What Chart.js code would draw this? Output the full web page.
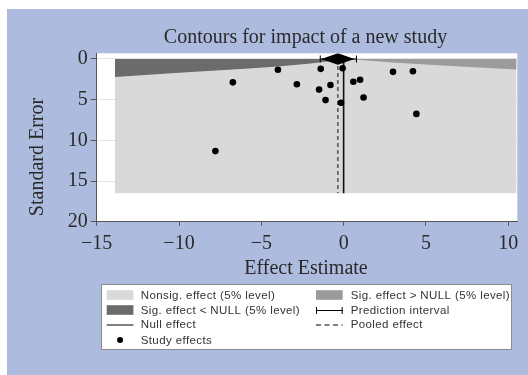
<!DOCTYPE html>
<html>
<head>
<meta charset="utf-8">
<script src="https://cdn.jsdelivr.net/npm/chart.js@4.4.1/dist/chart.umd.min.js"></script>
<style>
  html, body { margin: 0; padding: 0; background: #fff; }
  #wrap { width: 528px; height: 375px; }
</style>
</head>
<body>
<div id="wrap"><canvas id="c" width="528" height="375"></canvas></div>
<script>
// study estimates
const studyEffect = [-3.99, -1.39, -0.06, -6.73, -2.84, -1.49, -0.80, -1.10, -0.16, 0.59, 1.00, 1.21, 3.00, 4.21, 4.42, -7.79];
const studySE     = [ 1.33,  1.21,  1.13,  2.87,  3.11,  3.76,  3.19,  5.05,  5.38, 2.79, 2.55, 4.73, 1.58, 1.50, 6.75, 11.32];

const nullEffect = 0;
const pooledEffect = -0.35;
const pooledCI = [-1.36, 0.66];
const diamondHalfSE = 0.7;
const predInterval = [-1.42, 0.78];

// contour regions (effect, SE)
const contourX = [-13.89, 10.49];
const contourMaxSE = 16.5;
const sigLowX  = [-13.89, -10, -8, -6, -4, -2, -1, -0.1];
const sigLowSE = [2.2, 1.7, 1.44, 1.2, 0.93, 0.55, 0.3, 0];
const sigHighX  = [0.1, 1, 3, 6, 10.49];
const sigHighSE = [0, 0.12, 0.42, 0.8, 1.28];

const xTicks = [-15, -10, -5, 0, 5, 10];
const xTickLabels = ['\u221215', '\u221210', '\u22125', '0', '5', '10'];
const yTicks = [0, 5, 10, 15, 20];

const titleText = 'Contours for impact of a new study';
const xTitle = 'Effect Estimate';
const yTitle = 'Standard Error';
const legendLabels = [
  'Nonsig. effect (5% level)', 'Sig. effect > NULL (5% level)',
  'Sig. effect < NULL (5% level)', 'Prediction interval',
  'Null effect', 'Pooled effect',
  'Study effects'
];

const C_BLUE = '#adbbdf';
const C_LIGHT = '#d9d9d9';
const C_MID = '#9b9b9b';
const C_DARK = '#6b6b6b';
const SERIF = '"Liberation Serif", "DejaVu Serif", serif';
const SANS = '"Liberation Sans", Arial, sans-serif';

// polygons for the shaded areas
const nonsigPoly = [
  { x: contourX[0], y: 0 }, { x: contourX[1], y: 0 },
  { x: contourX[1], y: contourMaxSE }, { x: contourX[0], y: contourMaxSE },
  { x: contourX[0], y: 0 }
];
const sigLowPoly = [{ x: sigLowX[0], y: 0 }];
for (let i = sigLowX.length - 1; i >= 0; i--) sigLowPoly.push({ x: sigLowX[i], y: sigLowSE[i] });
const sigHighPoly = sigHighX.map((x, i) => ({ x: x, y: sigHighSE[i] }));
sigHighPoly.push({ x: sigHighX[sigHighX.length - 1], y: 0 }, { x: sigHighX[0], y: 0 });

const diamond = [
  { x: pooledCI[0], y: 0 }, { x: pooledEffect, y: -diamondHalfSE },
  { x: pooledCI[1], y: 0 }, { x: pooledEffect, y: diamondHalfSE },
  { x: pooledCI[0], y: 0 }
];

function poly(data, color, order) {
  return {
    type: 'line', data: data, order: order,
    backgroundColor: color, borderColor: color, borderWidth: 0,
    fill: 'shape', pointRadius: 0, tension: 0
  };
}

const panelPlugin = {
  id: 'panel',
  beforeDraw(chart) {
    const ctx = chart.ctx;
    const a = chart.chartArea;
    ctx.save();
    ctx.fillStyle = '#fff';
    ctx.fillRect(0, 0, chart.width, chart.height);
    ctx.fillStyle = C_BLUE;
    ctx.fillRect(7, 9, chart.width - 7, chart.height - 9);
    ctx.fillStyle = '#fff';
    ctx.fillRect(a.left, a.top, a.right - a.left, a.bottom - a.top);
    ctx.restore();
  },
  afterDraw(chart) {
    const ctx = chart.ctx;
    ctx.save();
    ctx.fillStyle = '#2a2a2a';
    ctx.font = '20px ' + SERIF;
    ctx.textAlign = 'center';
    ctx.textBaseline = 'alphabetic';
    ctx.fillText(titleText, 305.5, 42.5);
    ctx.textBaseline = 'middle';
    ctx.fillText(xTitle, 306, 269);
    ctx.translate(38, 157);
    ctx.rotate(-Math.PI / 2);
    ctx.fillText(yTitle, 0, 0);
    ctx.restore();

    // legend
    ctx.save();
    ctx.fillStyle = '#fff';
    ctx.fillRect(101.5, 284.5, 410, 65);
    ctx.strokeStyle = '#8c8c8c';
    ctx.lineWidth = 1;
    ctx.strokeRect(101.5, 284.5, 410, 65);
    const colX = [106.7, 316];
    const textX = [140.7, 350.7];
    const rowY = [295, 310, 324.5, 340];
    const kinds = ['box', 'box', 'box', 'pi', 'line', 'dash', 'dot'];
    const boxColors = [C_LIGHT, C_MID, C_DARK];
    ctx.font = '11.5px ' + SANS;
    ctx.letterSpacing = '0.4px';
    ctx.textBaseline = 'middle';
    ctx.textAlign = 'left';
    legendLabels.forEach((label, i) => {
      const col = i % 2, row = Math.floor(i / 2);
      const x = colX[col], y = rowY[row], w = 26.7;
      ctx.strokeStyle = '#000';
      ctx.setLineDash([]);
      if (kinds[i] === 'box') {
        ctx.fillStyle = boxColors[i];
        ctx.fillRect(x, y - 4.8, w, 9.6);
      } else if (kinds[i] === 'pi') {
        ctx.lineWidth = 1;
        ctx.beginPath();
        ctx.moveTo(x, y + 0.5); ctx.lineTo(x + w, y + 0.5);
        ctx.moveTo(x + 0.5, y - 3); ctx.lineTo(x + 0.5, y + 4);
        ctx.moveTo(x + w - 0.5, y - 3); ctx.lineTo(x + w - 0.5, y + 4);
        ctx.stroke();
      } else if (kinds[i] === 'line' || kinds[i] === 'dash') {
        ctx.lineWidth = 1;
        if (kinds[i] === 'dash') ctx.setLineDash([5, 3.5]);
        ctx.beginPath();
        ctx.moveTo(x, y + 0.5); ctx.lineTo(x + w, y + 0.5);
        ctx.stroke();
        ctx.setLineDash([]);
      } else {
        ctx.fillStyle = '#000';
        ctx.beginPath();
        ctx.arc(x + w / 2, y, 3, 0, Math.PI * 2);
        ctx.fill();
      }
      ctx.fillStyle = '#333';
      ctx.fillText(label, textX[col], y + 0.5);
    });
    ctx.restore();
  }
};

new Chart(document.getElementById('c'), {
  type: 'scatter',
  data: {
    datasets: [
      {
        label: 'Study effects',
        data: studyEffect.map((x, i) => ({ x: x, y: studySE[i] })),
        order: 0,
        backgroundColor: '#000', borderColor: '#000',
        pointRadius: 3.3, pointBorderWidth: 0
      },
      Object.assign(poly(diamond, '#000', 1), { label: 'Pooled CI' }),
      {
        type: 'line', label: 'Prediction interval', order: 2,
        data: predInterval.map(x => ({ x: x, y: 0 })),
        borderColor: '#000', borderWidth: 1,
        pointStyle: 'line', pointRotation: 90, pointRadius: 3.5,
        pointBorderColor: '#000', pointBorderWidth: 1
      },
      {
        type: 'line', label: 'Null effect', order: 3,
        data: [{ x: nullEffect, y: 0 }, { x: nullEffect, y: contourMaxSE }],
        borderColor: '#111', borderWidth: 1.6, pointRadius: 0
      },
      {
        type: 'line', label: 'Pooled effect', order: 3,
        data: [{ x: pooledEffect, y: 0 }, { x: pooledEffect, y: contourMaxSE }],
        borderColor: '#333', borderWidth: 1.2, borderDash: [4, 3], pointRadius: 0
      },
      Object.assign(poly(sigLowPoly, C_DARK, 5), { label: 'Sig < NULL' }),
      Object.assign(poly(sigHighPoly, C_MID, 6), { label: 'Sig > NULL' }),
      Object.assign(poly(nonsigPoly, C_LIGHT, 7), { label: 'Nonsig' })
    ]
  },
  options: {
    responsive: false,
    animation: false,
    devicePixelRatio: 1,
    layout: { padding: { left: 0, right: 10.7, top: 53.3, bottom: 103.3 } },
    plugins: {
      legend: { display: false },
      title: { display: false },
      tooltip: { enabled: false }
    },
    scales: {
      x: {
        type: 'linear', min: -15, max: 10.55,
        afterBuildTicks: s => { s.ticks = xTicks.map(v => ({ value: v })); },
        afterFit: s => { s.height = 50; },
        ticks: {
          callback: v => xTickLabels[xTicks.indexOf(v)],
          font: { family: SERIF, size: 20 }, color: '#2a2a2a',
          padding: 6, maxRotation: 0, autoSkip: false
        },
        grid: { drawOnChartArea: false, tickColor: '#555', tickLength: 4 },
        border: { color: '#555', width: 1 }
      },
      y: {
        type: 'linear', reverse: true, min: -0.7, max: 20,
        afterBuildTicks: s => { s.ticks = yTicks.map(v => ({ value: v })); },
        afterFit: s => { s.width = 96.7; },
        ticks: {
          font: { family: SERIF, size: 20 }, color: '#2a2a2a', padding: 3
        },
        grid: { color: '#e3e3e3', tickColor: '#555', tickLength: 6 },
        border: { color: '#555', width: 1 }
      }
    }
  },
  plugins: [panelPlugin]
});
</script>
</body>
</html>
